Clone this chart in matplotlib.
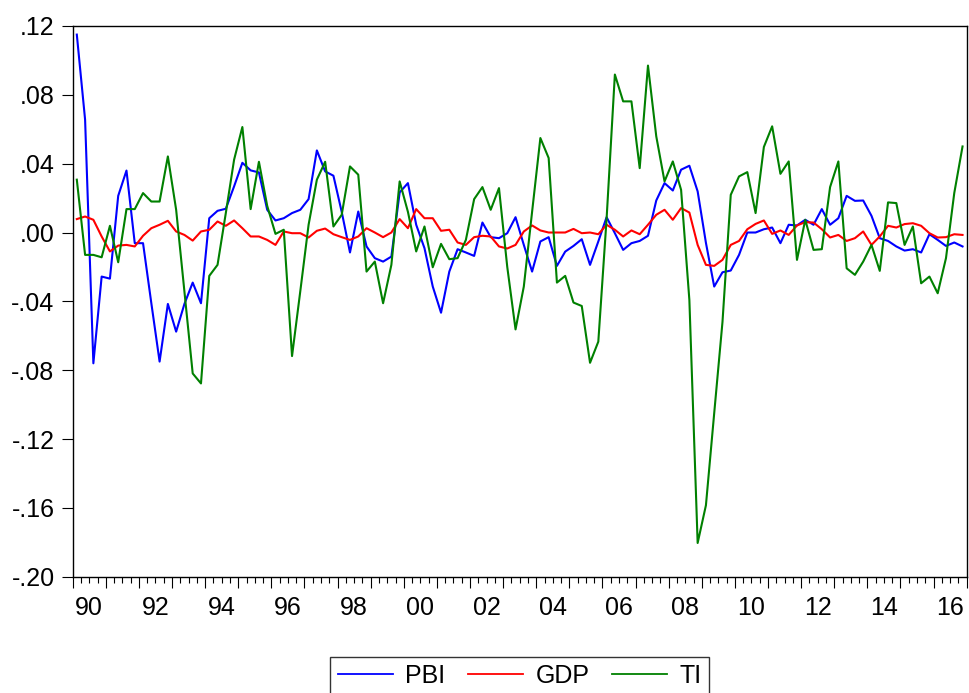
import numpy as np
import matplotlib
matplotlib.use("Agg")
import matplotlib.pyplot as plt
from matplotlib.ticker import MultipleLocator

# quarterly series, 1990Q1 - 2016Q4
pbi = [0.115, 0.0656, -0.076, -0.0256, -0.0268, 0.0213, 0.036, -0.0062,
       -0.0062, -0.041, -0.075, -0.0415, -0.0576, -0.0415, -0.0291, -0.0411,
       0.0083, 0.0126, 0.0138, 0.0268, 0.0405, 0.0361, 0.0349, 0.0132,
       0.0070, 0.0083, 0.0113, 0.0132, 0.0194, 0.0477, 0.0355, 0.033,
       0.012, -0.0116, 0.0122, -0.0081, -0.0149, -0.0169, -0.014, 0.0233,
       0.0287, 0.0045, -0.0091, -0.0314, -0.0466, -0.0227, -0.0097, -0.0116,
       -0.0136, 0.0058, -0.0027, -0.0033, -0.0004, 0.0089, -0.0072, -0.0227,
       -0.0052, -0.0027, -0.0194, -0.0111, -0.0078, -0.0039, -0.0188, -0.0052,
       0.0089, -0.0004, -0.0101, -0.0062, -0.0049, -0.0019, 0.0186, 0.0287,
       0.0244, 0.0365, 0.0388, 0.0239, -0.006, -0.0314, -0.0231, -0.0221,
       -0.013, 0.0, 0.0, 0.0019, 0.0029, -0.0062, 0.0045, 0.0041,
       0.0074, 0.0045, 0.0136, 0.0045, 0.0083, 0.0213, 0.0184, 0.0186,
       0.0097, -0.0033, -0.0049, -0.0081, -0.0105, -0.0097, -0.0116, -0.001,
       -0.0043, -0.0078, -0.0058, -0.0081]

gdp = [0.0078, 0.0093, 0.0074, -0.0023, -0.011, -0.0076, -0.0072, -0.0081,
       -0.0019, 0.0025, 0.0045, 0.0068, 0.0006, -0.0014, -0.0047, 0.0006,
       0.0016, 0.0064, 0.0039, 0.0070, 0.0025, -0.0023, -0.0023, -0.0043,
       -0.0072, 0.0006, -0.0004, -0.0004, -0.0029, 0.001, 0.0023, -0.001,
       -0.0027, -0.0043, -0.0023, 0.0025, 0.0, -0.0027, 0.0, 0.0078,
       0.0025, 0.0136, 0.0083, 0.0083, 0.001, 0.0016, -0.0058, -0.0072,
       -0.0027, -0.0019, -0.0023, -0.0081, -0.0093, -0.0072, 0.0006, 0.0041,
       0.0012, 0.0, 0.0, 0.0, 0.0021, -0.0004, 0.0, -0.001,
       0.0045, 0.0016, -0.0023, 0.0012, -0.001, 0.0045, 0.0103, 0.0132,
       0.0074, 0.0142, 0.0116, -0.0072, -0.0188, -0.0194, -0.0159, -0.0072,
       -0.0049, 0.0019, 0.005, 0.007, -0.0008, 0.0012, -0.0014, 0.0041,
       0.0060, 0.0058, 0.0019, -0.0029, -0.0014, -0.0049, -0.0033, 0.0006,
       -0.0072, -0.0023, 0.0039, 0.0029, 0.0049, 0.0054, 0.0039, -0.0004,
       -0.0029, -0.0027, -0.001, -0.0014]

ti = [0.0307, -0.013, -0.013, -0.0144, 0.0039, -0.0173, 0.0136, 0.0136,
      0.0229, 0.018, 0.018, 0.0442, 0.0132, -0.0343, -0.0819, -0.0877,
      -0.0252, -0.0188, 0.0113, 0.0423, 0.0613, 0.0136, 0.0411, 0.0155,
      -0.0008, 0.0016, -0.0718, -0.034, 0.0045, 0.0307, 0.0411, 0.0035,
      0.0103, 0.0384, 0.0336, -0.0227, -0.0169, -0.0411, -0.0188, 0.0297,
      0.012, -0.011, 0.0035, -0.0202, -0.0066, -0.0155, -0.0149, -0.0043,
      0.0194, 0.0264, 0.0132, 0.0258, -0.02, -0.0563, -0.0314, 0.012,
      0.0549, 0.0433, -0.0291, -0.0252, -0.0407, -0.0427, -0.0757, -0.0634,
      0.008, 0.0918, 0.0762, 0.0762, 0.0374, 0.097, 0.0559, 0.0297,
      0.0413, 0.0248, -0.0392, -0.1804, -0.1585, -0.105, -0.052, 0.0219,
      0.0326, 0.0351, 0.0113, 0.0497, 0.0617, 0.0341, 0.0413, -0.0159,
      0.0074, -0.0101, -0.0097, 0.0264, 0.0413, -0.0208, -0.0246, -0.0169,
      -0.0072, -0.0223, 0.0175, 0.0171, -0.0072, 0.0035, -0.0295, -0.0256,
      -0.0353, -0.0149, 0.0229, 0.05]

start_year = 1990
end_year = 2017
year_labels = ["90", "92", "94", "96", "98", "00", "02", "04",
               "06", "08", "10", "12", "14", "16"]
y_ticks = [0.12, 0.08, 0.04, 0.00, -0.04, -0.08, -0.12, -0.16, -0.20]
y_labels = [".12", ".08", ".04", ".00", "-.04", "-.08", "-.12", "-.16", "-.20"]

plt.rcParams['font.family'] = ['Liberation Sans', 'DejaVu Sans']

# observation placed in the middle of its quarter
t = start_year + (np.arange(len(pbi)) + 0.5) / 4.0

fig = plt.figure(figsize=(9.69, 6.93), dpi=100)
ax = fig.add_axes([0.075, 0.1678, 0.9226, 0.7947])

ax.plot(t, pbi, color=(0, 0, 1), lw=1.5, label='PBI')
ax.plot(t, gdp, color=(1, 0, 0), lw=1.5, label='GDP')
ax.plot(t, ti, color=(0, 0.5, 0), lw=1.5, label='TI')

ax.set_xlim(start_year, end_year)
ax.set_ylim(-0.20, 0.12)

ax.set_yticks(y_ticks)
ax.set_yticklabels(y_labels)
ax.tick_params(axis='y', direction='out', length=8, width=0.8,
               labelsize=18, pad=5)

# year ticks (long) and quarter ticks (short), no labels here
ax.xaxis.set_major_locator(MultipleLocator(1))
ax.xaxis.set_minor_locator(MultipleLocator(0.25))
ax.tick_params(axis='x', which='major', direction='out', length=8,
               width=0.8, labelbottom=False)
ax.tick_params(axis='x', which='minor', direction='out', length=4.5,
               width=0.8)

# labels centred on every second year
sec = ax.secondary_xaxis('bottom')
sec.set_xticks([start_year + 2 * k + 0.5 for k in range(len(year_labels))])
sec.set_xticklabels(year_labels)
sec.tick_params(axis='x', length=0, labelsize=18, pad=14)
sec.spines['bottom'].set_visible(False)

for s in ax.spines.values():
    s.set_linewidth(1.0)
    s.set_color('black')

leg = fig.legend(loc='upper center', bbox_to_anchor=(0.5363, 0.0524),
                 ncol=3, fontsize=18, frameon=True, fancybox=False,
                 edgecolor='black', handlelength=2.2, handletextpad=0.5,
                 columnspacing=0.9, borderpad=0.3, borderaxespad=0)
leg.get_frame().set_linewidth(1.0)
for line in leg.get_lines():
    line.set_linewidth(1.3)

fig.savefig('out.png', dpi=100, facecolor='white')
